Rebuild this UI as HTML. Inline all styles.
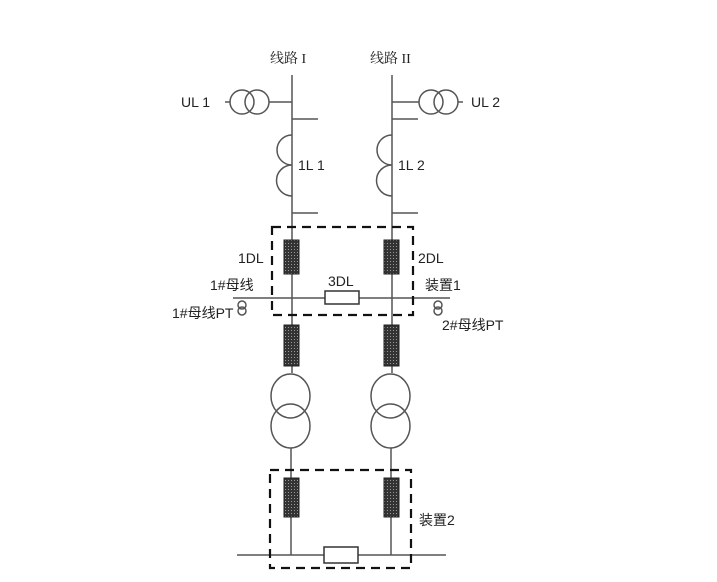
<!DOCTYPE html>
<html><head><meta charset="utf-8"><style>
body{margin:0;background:#fff}
svg text{font-family:"Liberation Sans","Noto Sans CJK SC",sans-serif;fill:#222}
</style></head><body>
<svg width="717" height="577" viewBox="0 0 717 577" xmlns="http://www.w3.org/2000/svg">
<defs><pattern id="h" width="3" height="3" patternUnits="userSpaceOnUse"><rect width="3" height="3" fill="#333"/><rect width="1" height="1" fill="#999"/></pattern></defs>
<g stroke="#555" stroke-width="1.5" fill="none">
<!-- verticals -->
<line x1="292" y1="75" x2="292" y2="373"/><line x1="392" y1="75" x2="392" y2="373"/>
<line x1="291" y1="448" x2="291" y2="555"/><line x1="391" y1="448" x2="391" y2="555"/>
<!-- UL -->
<circle cx="242" cy="102" r="12"/><circle cx="257" cy="102" r="12"/>
<line x1="225" y1="102" x2="230" y2="102"/><line x1="269" y1="102" x2="292" y2="102"/>
<circle cx="431" cy="102" r="12"/><circle cx="446" cy="102" r="12"/>
<line x1="392" y1="102" x2="419" y2="102"/><line x1="458" y1="102" x2="463" y2="102"/>
<!-- ticks -->
<line x1="292" y1="119" x2="318" y2="119"/><line x1="292" y1="213" x2="318" y2="213"/>
<line x1="392" y1="119" x2="418" y2="119"/><line x1="392" y1="213" x2="418" y2="213"/>
<!-- inductors -->
<path d="M292 135 A15 15 0 0 0 292 165 A15 15 0 0 0 292 196"/>
<path d="M392 135 A15 15 0 0 0 392 165 A15 15 0 0 0 392 196"/>
<!-- bus 1 -->
<line x1="233" y1="298" x2="450" y2="298"/>
<!-- transformers -->
<ellipse cx="290.5" cy="396" rx="19.5" ry="22"/><ellipse cx="290.5" cy="426" rx="19.5" ry="22"/>
<ellipse cx="390.5" cy="396" rx="19.5" ry="22"/><ellipse cx="390.5" cy="426" rx="19.5" ry="22"/>
<!-- bus 2 -->
<line x1="237" y1="555" x2="446" y2="555"/>
<!-- PTs -->
<circle cx="242" cy="305" r="4"/><circle cx="242" cy="311" r="4"/>
<circle cx="438" cy="305" r="4"/><circle cx="438" cy="311" r="4"/>
</g>
<g stroke="#111" stroke-width="2.2" fill="none" stroke-dasharray="9,6">
<rect x="272" y="227" width="141" height="88"/>
<rect x="270" y="470" width="141" height="98"/>
</g>
<g fill="url(#h)" stroke="#222" stroke-width="1">
<rect x="284" y="240" width="15" height="34"/><rect x="384" y="240" width="15" height="34"/>
<rect x="284" y="325" width="15" height="41"/><rect x="384" y="325" width="15" height="41"/>
<rect x="284" y="478" width="15" height="39"/><rect x="384" y="478" width="15" height="39"/>
</g>
<g fill="#fff" stroke="#333" stroke-width="1.5">
<rect x="325" y="291" width="34" height="13"/>
<rect x="324" y="547" width="34" height="16"/>
</g>
<g font-size="14">
<text x="270" y="63" style="font-family:'Liberation Serif','Noto Serif CJK SC',serif" fill="#555">线路 I</text>
<text x="370" y="63" style="font-family:'Liberation Serif','Noto Serif CJK SC',serif" fill="#555">线路 II</text>
<text x="181" y="107">UL 1</text><text x="471" y="107">UL 2</text>
<text x="298" y="170">1L 1</text><text x="398" y="170">1L 2</text>
<text x="238" y="263">1DL</text><text x="418" y="263">2DL</text>
<text x="328" y="286">3DL</text>
<text x="210" y="290">1#母线</text><text x="425" y="290">装置1</text>
<text x="172" y="318">1#母线PT</text><text x="442" y="330">2#母线PT</text>
<text x="419" y="525">装置2</text>
</g>
</svg>
</body></html>
